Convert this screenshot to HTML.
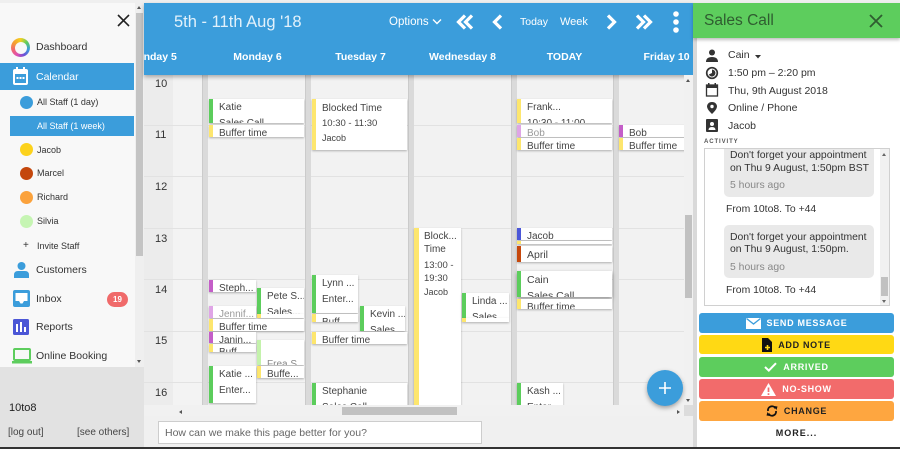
<!DOCTYPE html>
<html><head><meta charset="utf-8"><style>
*{margin:0;padding:0;box-sizing:border-box}
body{width:900px;height:449px;overflow:hidden;position:relative;background:#f4f4f4;font-family:"Liberation Sans",sans-serif;color:#333}
.a{position:absolute}
.t{position:absolute;white-space:nowrap;line-height:14px}
.ev{position:absolute;background:#fff;box-shadow:0 1px 2px rgba(0,0,0,.28);overflow:hidden;font-size:10px;line-height:16px;color:#444;padding:1px 0 0 6px;white-space:nowrap;border-left:4px solid #5ccd5c}
.g{border-left-color:#5ccd5c}.y{border-left-color:#fde66e}.p{border-left-color:#c45ec8}.lp{border-left-color:#dfa5e6;color:#999}.lg{border-left-color:#c4f2ac}
.sb{font-size:10.5px;color:#333}
.ss{font-size:9px;color:#333}
.hl{position:absolute;left:144px;width:540px;height:1px;background:#e2e2e2}
.sep{position:absolute;top:75px;width:6px;height:330px;background:#dadada;border-left:1px solid #cbcbcb}
.tl{position:absolute;left:155px;font-size:11px;line-height:14px;color:#333}
.dh{position:absolute;top:47px;width:103px;text-align:center;font-size:10.5px;font-weight:bold;color:#fff;line-height:14px;white-space:nowrap}
.btn{position:absolute;left:699px;width:195px;height:20px;border-radius:3px;display:flex;align-items:center;justify-content:center;font-weight:bold;font-size:9px;letter-spacing:.7px;gap:6px}
.dot{position:absolute;left:20px;width:13px;height:13px;border-radius:50%}
.msg{position:absolute;left:730px;font-size:10.4px;line-height:13px;color:#333;white-space:nowrap}
</style></head><body>

<div class="a" style="left:0;top:0;width:900px;height:3px;background:#efefef"></div>

<!-- SIDEBAR -->
<div class="a" style="left:0;top:3px;width:135px;height:364px;background:#f8f8f8"></div>
<div class="a" style="left:135px;top:3px;width:9px;height:364px;background:#efefef"></div>
<div class="a" style="left:136px;top:13px;width:7px;height:243px;background:#c4c4c4"></div>
<div class="a" style="left:0;top:63px;width:134px;height:27px;background:#3b9ddb"></div>
<div class="a" style="left:10px;top:116px;width:124px;height:20px;background:#3b9ddb"></div>
<div class="a" style="left:0;top:367px;width:144px;height:80px;background:#e2e2e2"></div>

<div class="a" style="left:11px;top:38px;width:19px;height:19px;border-radius:50%;background:conic-gradient(#f5d020,#5dcd5d,#3b9ddb,#6a4fd8,#e04fb0,#f26a6a,#f5a030,#f5d020)"></div>
<div class="a" style="left:14.5px;top:41.5px;width:12px;height:12px;border-radius:50%;background:#f8f8f8"></div>

<div class="t sb" style="left:36px;top:40px">Dashboard</div>
<div class="t sb" style="left:36px;top:70px;color:#fff">Calendar</div>
<div class="dot" style="top:96px;background:#3b9ddb"></div>
<div class="t ss" style="left:37px;top:95px">All Staff (1 day)</div>
<div class="t ss" style="left:37px;top:119px;color:#fff">All Staff (1 week)</div>
<div class="dot" style="top:143px;background:#fcd21c"></div>
<div class="t ss" style="left:37px;top:143px">Jacob</div>
<div class="dot" style="top:167px;background:#c4470c"></div>
<div class="t ss" style="left:37px;top:166px">Marcel</div>
<div class="dot" style="top:191px;background:#fba23c"></div>
<div class="t ss" style="left:37px;top:190px">Richard</div>
<div class="dot" style="top:215px;background:#c6f5b3"></div>
<div class="t ss" style="left:37px;top:214px">Silvia</div>
<div class="t ss" style="left:23px;top:239px;font-size:10px">+</div>
<div class="t ss" style="left:37px;top:239px">Invite Staff</div>
<div class="t sb" style="left:36px;top:263px">Customers</div>
<div class="t sb" style="left:36px;top:292px">Inbox</div>
<div class="a" style="left:107px;top:292px;width:21px;height:15px;border-radius:8px;background:#f06a6a;color:#fff;font-size:8px;font-weight:bold;text-align:center;line-height:15px">19</div>
<div class="t sb" style="left:36px;top:320px">Reports</div>
<div class="t sb" style="left:36px;top:349px">Online Booking</div>
<div class="t" style="left:9px;top:401px;font-size:11px;color:#222">10to8</div>
<div class="t" style="left:8px;top:426px;font-size:10px;color:#444">[log out]</div>
<div class="t" style="left:77px;top:426px;font-size:10px;color:#444">[see others]</div>

<!-- CALENDAR BODY -->
<div class="a" style="left:0;top:0;width:900px;height:449px;clip-path:inset(75px 216px 44px 144px)">
  <div class="a" style="left:144px;top:75px;width:540px;height:330px;background:#f2f2f2"></div>
  <div class="a" style="left:144px;top:75px;width:29px;height:330px;background:#ececec"></div>
  <div class="a" style="left:173px;top:75px;width:29px;height:330px;background:#f3f3f3"></div>
  <div class="hl" style="top:125px"></div>
  <div class="hl" style="top:176px"></div>
  <div class="hl" style="top:228px"></div>
  <div class="hl" style="top:279px"></div>
  <div class="hl" style="top:331px"></div>
  <div class="hl" style="top:382px"></div>
  <div class="sep" style="left:202px"></div>
  <div class="sep" style="left:305px"></div>
  <div class="sep" style="left:408px"></div>
  <div class="sep" style="left:511px"></div>
  <div class="sep" style="left:613px"></div>

  <div class="tl" style="top:77px">10</div>
  <div class="tl" style="top:128px">11</div>
  <div class="tl" style="top:180px">12</div>
  <div class="tl" style="top:232px">13</div>
  <div class="tl" style="top:283px">14</div>
  <div class="tl" style="top:334px">15</div>
  <div class="tl" style="top:386px">16</div>

  <div class="ev g" style="left:209px;top:99px;width:95px;height:24px">Katie<br>Sales Call</div>
  <div class="ev y" style="left:209px;top:125px;width:95px;height:12px">Buffer time</div>
  <div class="ev p" style="left:209px;top:280px;width:47px;height:12px">Steph...</div>
  <div class="ev g" style="left:257px;top:288px;width:47px;height:26px">Pete S...<br>Sales...</div>
  <div class="ev y" style="left:257px;top:314px;width:47px;height:4px"></div>
  <div class="ev lp" style="left:209px;top:306px;width:47px;height:12px">Jennif...</div>
  <div class="ev y" style="left:209px;top:319px;width:95px;height:12px">Buffer time</div>
  <div class="ev p" style="left:209px;top:332px;width:47px;height:11px">Janin...</div>
  <div class="ev y" style="left:209px;top:344px;width:47px;height:8px">Buff...</div>
  <div class="ev lg" style="left:257px;top:340px;width:47px;height:25px;color:#888">&nbsp;<br>Frea S...</div>
  <div class="ev y" style="left:257px;top:366px;width:47px;height:12px">Buffe...</div>
  <div class="ev g" style="left:209px;top:366px;width:47px;height:37px">Katie ...<br>Enter...</div>

  <div class="ev y" style="left:312px;top:99px;width:95px;height:51px;line-height:15px;padding-top:2px">Blocked Time<br><span style="font-size:9.5px">10:30 - 11:30</span><br><span style="font-size:9px">Jacob</span></div>
  <div class="ev g" style="left:312px;top:275px;width:46px;height:38px">Lynn ...<br>Enter...</div>
  <div class="ev y" style="left:312px;top:314px;width:46px;height:8px">Buff...</div>
  <div class="ev g" style="left:360px;top:306px;width:45px;height:25px">Kevin ...<br>Sales...</div>
  <div class="ev y" style="left:312px;top:332px;width:95px;height:12px">Buffer time</div>
  <div class="ev g" style="left:312px;top:383px;width:95px;height:30px">Stephanie<br>Sales Call</div>

  <div class="ev y" style="left:414px;top:228px;width:47px;height:190px;border-left-width:5px;line-height:13px;padding-top:2px;padding-left:5px">
    <div>Block...</div><div>Time</div>
    <div style="margin-top:3px;font-size:9.5px">13:00 -</div><div style="font-size:9.5px">19:30</div>
    <div style="margin-top:1px;font-size:9px">Jacob</div>
  </div>
  <div class="ev g" style="left:462px;top:293px;width:47px;height:25px">Linda ...<br>Sales...</div>
  <div class="ev y" style="left:462px;top:318px;width:47px;height:4px"></div>

  <div class="ev y" style="left:517px;top:99px;width:95px;height:24px">Frank...<br>10:30 - 11:00</div>
  <div class="ev lp" style="left:517px;top:125px;width:95px;height:12px">Bob</div>
  <div class="ev y" style="left:517px;top:138px;width:95px;height:12px">Buffer time</div>
  <div class="ev" style="left:517px;top:228px;width:95px;height:12px;border-left-color:#4b57d8">Jacob</div>
  <div class="ev y" style="left:517px;top:241px;width:95px;height:3px"></div>
  <div class="ev" style="left:517px;top:246px;width:95px;height:16px;border-left-color:#c6480c;font-size:10.5px">April</div>
  <div class="ev g" style="left:517px;top:271px;width:95px;height:26px;box-shadow:0 2px 4px rgba(0,0,0,.4);font-size:10.5px">Cain<br>Sales Call</div>
  <div class="ev y" style="left:517px;top:299px;width:95px;height:10px">Buffer time</div>
  <div class="ev g" style="left:517px;top:383px;width:46px;height:30px">Kash ...<br>Enter...</div>

  <div class="ev p" style="left:619px;top:125px;width:70px;height:12px">Bob</div>
  <div class="ev y" style="left:619px;top:138px;width:70px;height:12px">Buffer time</div>
</div>

<!-- HEADER -->
<div class="a" style="left:144px;top:3px;width:549px;height:72px;background:#3b9ddb;overflow:hidden;box-shadow:0 2px 4px rgba(0,0,0,.3)">
  <div class="t" style="left:30px;top:9px;font-size:16.5px;line-height:20px;color:#e2f1fb">5th - 11th Aug '18</div>
  <div class="t" style="left:245px;top:12px;font-size:11.5px;color:#fff">Options</div>
  <div class="t" style="left:376px;top:12px;font-size:10.5px;color:#fff">Today</div>
  <div class="t" style="left:416px;top:12px;font-size:11px;color:#fff">Week</div>
  <div class="dh" style="left:-42px">Sunday 5</div>
  <div class="dh" style="left:62px">Monday 6</div>
  <div class="dh" style="left:165px">Tuesday 7</div>
  <div class="dh" style="left:267px">Wednesday 8</div>
  <div class="dh" style="left:369px">TODAY</div>
  <div class="dh" style="left:471px">Friday 10</div>
</div>

<div class="a" style="left:684px;top:75px;width:9px;height:330px;background:#f1f1f1"></div>
<div class="a" style="left:685px;top:215px;width:7px;height:83px;background:#c1c1c1"></div>
<div class="a" style="left:144px;top:405px;width:540px;height:11px;background:#f1f1f1"></div>
<div class="a" style="left:342px;top:407px;width:115px;height:8px;background:#c1c1c1"></div>
<div class="a" style="left:684px;top:405px;width:9px;height:11px;background:#dcdcdc"></div>

<div class="a" style="left:647px;top:370px;width:36px;height:36px;border-radius:50%;background:#3b9ddb;box-shadow:0 2px 5px rgba(0,0,0,.35)"></div>

<div class="a" style="left:144px;top:416px;width:549px;height:31px;background:#f0f0f0"></div>
<div class="a" style="left:158px;top:421px;width:324px;height:23px;background:#fff;border:1px solid #cdcdcd"></div>
<div class="t" style="left:165px;top:426px;font-size:10.5px;color:#666">How can we make this page better for you?</div>
<div class="a" style="left:0;top:447px;width:900px;height:2px;background:#333"></div>

<!-- RIGHT PANEL -->
<div class="a" style="left:693px;top:3px;width:4px;height:444px;background:#d9d9d9"></div>
<div class="a" style="left:697px;top:38px;width:203px;height:409px;background:#fff"></div>
<div class="a" style="left:693px;top:3px;width:207px;height:35px;background:#5dcd5d;box-shadow:0 2px 3px rgba(0,0,0,.25)"></div>
<div class="t" style="left:704px;top:11px;font-size:15.5px;line-height:20px;color:#2f5c30">Sales Call</div>

<div class="t" style="left:728px;top:48px;font-size:10.5px">Cain</div>
<div class="t" style="left:728px;top:66px;font-size:10.5px">1:50 pm – 2:20 pm</div>
<div class="t" style="left:728px;top:84px;font-size:10.5px">Thu, 9th August 2018</div>
<div class="t" style="left:728px;top:101px;font-size:10.5px">Online / Phone</div>
<div class="t" style="left:728px;top:119px;font-size:10.5px">Jacob</div>
<div class="t" style="left:704px;top:137px;font-size:6px;font-weight:bold;letter-spacing:.9px;color:#555;line-height:10px">ACTIVITY</div>

<div class="a" style="left:704px;top:148px;width:186px;height:158px;border:1px solid #d0d0d0;background:#fff"></div>
<div class="a" style="left:724px;top:149px;width:150px;height:48px;background:#e9e9e9;border-radius:0 0 5px 5px"></div>
<div class="msg" style="top:149px">Don't forget your appointment</div>
<div class="msg" style="top:162px">on Thu 9 August, 1:50pm BST</div>
<div class="msg" style="top:179px;color:#888">5 hours ago</div>
<div class="msg" style="left:726px;top:203px">From 10to8. To +44</div>
<div class="a" style="left:724px;top:225px;width:150px;height:53px;background:#e9e9e9;border-radius:5px"></div>
<div class="msg" style="top:231px">Don't forget your appointment</div>
<div class="msg" style="top:243px">on Thu 9 August, 1:50pm.</div>
<div class="msg" style="top:261px;color:#888">5 hours ago</div>
<div class="msg" style="left:726px;top:284px">From 10to8. To +44</div>
<div class="a" style="left:880px;top:149px;width:9px;height:156px;background:#f1f1f1"></div>
<div class="a" style="left:881px;top:277px;width:7px;height:19px;background:#c1c1c1"></div>

<div class="btn" style="top:313px;background:#3b9ddb;color:#fff">
  <svg width="15" height="11"><rect width="15" height="11" fill="#fff"/><polyline points="0.5,0.5 7.5,6 14.5,0.5" stroke="#3b9ddb" fill="none" stroke-width="1.3"/></svg>SEND MESSAGE</div>
<div class="btn" style="top:335px;height:19px;background:#ffd914;color:#222">
  <svg width="10" height="14"><path d="M0,0H6L10,4V14H0Z" fill="#111"/><path d="M3,9.5H8M5.5,7V12" stroke="#ffd914" stroke-width="1.6"/></svg>ADD NOTE</div>
<div class="btn" style="top:357px;background:#5dcd5d;color:#fff">
  <svg width="13" height="10"><polyline points="1,5 4.8,8.6 12,1.2" stroke="#fff" stroke-width="2" fill="none"/></svg>ARRIVED</div>
<div class="btn" style="top:379px;background:#f26b6b;color:#fff">
  <svg width="15" height="13"><path d="M7.5,0 L15,13 H0Z" fill="#fff"/><path d="M7.5,4.5V9M7.5,10.2V12" stroke="#f26b6b" stroke-width="1.7"/></svg>NO-SHOW</div>
<div class="btn" style="top:401px;background:#fea640;color:#222">
  <svg width="12" height="12"><path d="M2,6 A4,4 0 0 1 9.5,3.5" stroke="#111" stroke-width="1.8" fill="none"/><path d="M10,6 A4,4 0 0 1 2.5,8.5" stroke="#111" stroke-width="1.8" fill="none"/><path d="M8,1 L11.5,1.5 L10.5,5Z M4,11 L0.5,10.5 L1.5,7Z" fill="#111"/></svg>CHANGE</div>
<div class="t" style="left:699px;top:426px;width:195px;text-align:center;font-size:9px;font-weight:bold;letter-spacing:1px;color:#222">MORE...</div>

<svg class="a" style="left:0;top:0" width="900" height="449">
  <path d="M118,15 L129,26 M129,15 L118,26" stroke="#222" stroke-width="1.6"/>
  <path d="M137,9 L141,9 L139,6Z M137,360 L141,360 L139,363Z" fill="#555"/>
  <rect x="13" y="69" width="15" height="16" rx="2" fill="#fff"/>
  <rect x="15" y="74" width="11" height="9" fill="#3b9ddb"/>
  <rect x="16" y="67" width="2" height="4" fill="#fff"/><rect x="23" y="67" width="2" height="4" fill="#fff"/>
  <rect x="16.5" y="77" width="2" height="2" fill="#fff"/><rect x="19.5" y="77" width="2" height="2" fill="#fff"/><rect x="22.5" y="77" width="2" height="2" fill="#fff"/>
  <circle cx="21.5" cy="266" r="4" fill="#3b9ddb"/>
  <path d="M14,278 V275 Q14,271 18,271 H25 Q29,271 29,275 V278Z" fill="#3b9ddb"/>
  <rect x="13" y="290" width="17" height="17" rx="2" fill="#3b9ddb"/>
  <path d="M15.5,293 H27.5 V301 H24 L22.5,303.5 H20.5 L19,301 H15.5Z" fill="#fff"/>
  <rect x="13" y="319" width="16" height="16" rx="1.5" fill="#4b56d6"/>
  <rect x="16" y="324" width="2" height="8" fill="#fff"/><rect x="20" y="322" width="2" height="10" fill="#fff"/><rect x="24" y="327" width="2" height="5" fill="#fff"/>
  <rect x="14" y="349" width="16" height="11" rx="1" stroke="#5dcd5d" stroke-width="2" fill="none"/>
  <rect x="12" y="361" width="20" height="2.5" fill="#5dcd5d"/>
  <polyline points="433,19.5 437,23.5 441,19.5" stroke="#fff" stroke-width="1.4" fill="none"/>
  <polyline points="465,15.5 458.5,22 465,28.5" stroke="#fff" stroke-width="3.2" fill="none"/>
  <polyline points="472,15.5 465.5,22 472,28.5" stroke="#fff" stroke-width="3.2" fill="none"/>
  <polyline points="501,15.5 494.5,22 501,28.5" stroke="#fff" stroke-width="3.2" fill="none"/>
  <polyline points="608,15.5 614.5,22 608,28.5" stroke="#fff" stroke-width="3.2" fill="none"/>
  <polyline points="637,15.5 643.5,22 637,28.5" stroke="#fff" stroke-width="3.2" fill="none"/>
  <polyline points="644,15.5 650.5,22 644,28.5" stroke="#fff" stroke-width="3.2" fill="none"/>
  <circle cx="676" cy="14" r="2.8" fill="#fff"/><circle cx="676" cy="22" r="2.8" fill="#fff"/><circle cx="676" cy="30" r="2.8" fill="#fff"/>
  <path d="M686,82 L690,82 L688,79Z M686,399 L690,399 L688,402Z M182,410 L182,414 L179,412Z M677,410 L677,414 L680,412Z" fill="#555"/>
  <path d="M665,382 V394 M659,388 H671" stroke="#fff" stroke-width="1.6"/>
  <path d="M870,15 L882,27 M882,15 L870,27" stroke="#2f5c30" stroke-width="1.8"/>
  <circle cx="712" cy="52.5" r="3" fill="#333"/>
  <path d="M706,62 Q706,57 712,57 Q718,57 718,62Z" fill="#333"/>
  <circle cx="712" cy="73" r="5.3" stroke="#333" stroke-width="1.7" fill="none"/>
  <path d="M712,69.5 A3.5,3.5 0 1 1 708.8,74.5 L712,73Z" fill="#333"/>
  <rect x="706.5" y="85" width="11" height="11" stroke="#333" stroke-width="1.3" fill="none"/>
  <rect x="706.5" y="85" width="11" height="3" fill="#333"/>
  <rect x="708" y="83" width="1.5" height="3" fill="#333"/><rect x="714.5" y="83" width="1.5" height="3" fill="#333"/>
  <path d="M712,102 C708.5,102 707,104.5 707,106.5 C707,109.5 712,114 712,114 C712,114 717,109.5 717,106.5 C717,104.5 715.5,102 712,102Z" fill="#333"/>
  <circle cx="712" cy="106.5" r="1.7" fill="#fff"/>
  <rect x="706" y="119" width="12" height="13" rx="1" fill="#333"/>
  <circle cx="712" cy="124" r="2" fill="#fff"/>
  <path d="M708.5,130 Q708.5,127 712,127 Q715.5,127 715.5,130Z" fill="#fff"/>
  <path d="M755,55 L761,55 L758,58.5Z" fill="#333"/>
  <path d="M882,156 L886,156 L884,153Z M882,300 L886,300 L884,303Z" fill="#666"/>
</svg>
</body></html>
